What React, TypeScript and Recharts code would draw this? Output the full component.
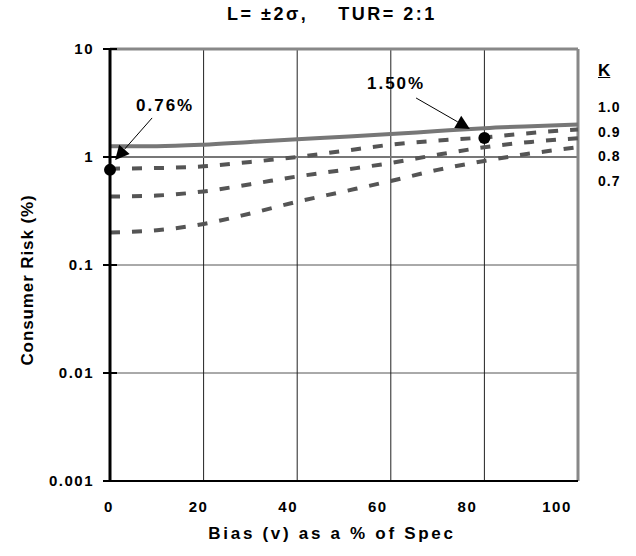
import React from "react";
import {
  LineChart,
  Line,
  XAxis,
  YAxis,
  CartesianGrid,
  ReferenceLine,
  ReferenceDot,
} from "recharts";

const FONT = "'Liberation Sans', Arial, Helvetica, sans-serif";

// bias as % of spec
const bias = [0, 10, 20, 30, 40, 50, 60, 70, 80, 90, 100];

// consumer risk (%) for each K
const riskK10 = [1.26, 1.26, 1.3, 1.38, 1.46, 1.54, 1.63, 1.74, 1.85, 1.93, 2.0];
const riskK09 = [0.78, 0.79, 0.82, 0.9, 1.0, 1.14, 1.3, 1.42, 1.52, 1.67, 1.8];
const riskK08 = [0.43, 0.44, 0.48, 0.56, 0.66, 0.76, 0.88, 1.05, 1.23, 1.38, 1.49];
const riskK07 = [0.2, 0.21, 0.24, 0.3, 0.385, 0.48, 0.6, 0.76, 0.92, 1.08, 1.23];

const kLabels = ["1.0", "0.9", "0.8", "0.7"];
const xTicks = [0, 20, 40, 60, 80, 100];
const yTicks = [0.001, 0.01, 0.1, 1, 10];

// highlighted points: [bias, risk %]
const markStart = { v: 0, risk: 0.76, label: "0.76%" };
const markEnd = { v: 80, risk: 1.5, label: "1.50%" };

const data = bias.map((v, i) => ({
  v,
  k10: riskK10[i],
  k09: riskK09[i],
  k08: riskK08[i],
  k07: riskK07[i],
}));

const YTick = (props: any) => {
  const { x, y, payload } = props;
  return (
    <g>
      <line x1={x + 11} x2={x + 25} y1={y} y2={y} stroke="#000" strokeWidth={2} />
      <text
        x={x + 2}
        y={y}
        dy="0.35em"
        textAnchor="end"
        fontFamily={FONT}
        fontWeight="bold"
        fontSize={15}
        letterSpacing={1.5}
        fill="#000"
      >
        {String(payload.value)}
      </text>
    </g>
  );
};

// labels sit slightly left of their grid lines, drifting further with value
const XTick = (props: any) => {
  const { x, y, payload } = props;
  return (
    <text
      x={x - 1 - payload.value * 0.2}
      y={y}
      dy="0.35em"
      textAnchor="middle"
      fontFamily={FONT}
      fontWeight="bold"
      fontSize={15}
      letterSpacing={1.5}
      fill="#000"
    >
      {payload.value}
    </text>
  );
};

const arrow = (label: string, dx: number, dy: number) => (p: any) => {
  const { x1, y1, x2, y2 } = p;
  const a = Math.atan2(y2 - y1, x2 - x1);
  const len = 14;
  const half = 7;
  const bx = x2 - len * Math.cos(a);
  const by = y2 - len * Math.sin(a);
  const nx = -Math.sin(a) * half;
  const ny = Math.cos(a) * half;
  return (
    <g>
      <line x1={x1} y1={y1} x2={bx} y2={by} stroke="#000" strokeWidth={1} />
      <polygon
        points={`${x2},${y2} ${bx + nx},${by + ny} ${bx - nx},${by - ny}`}
        fill="#000"
      />
      <text
        x={x1 + dx}
        y={y1 + dy}
        dy="0.35em"
        textAnchor="middle"
        fontFamily={FONT}
        fontWeight="bold"
        fontSize={17}
        letterSpacing={2}
        fill="#000"
      >
        {label}
      </text>
    </g>
  );
};

export default function App() {
  return (
    <div
      style={{
        position: "absolute",
        left: 0,
        top: 0,
        width: 636,
        height: 556,
        background: "#fff",
        fontFamily: FONT,
      }}
    >
      <div
        style={{
          position: "absolute",
          left: 227,
          top: 4,
          fontSize: 18,
          fontWeight: "bold",
          letterSpacing: 2.5,
          whiteSpace: "pre",
        }}
      >
        {"L= ±2σ,    TUR= 2:1"}
      </div>

      <div
        style={{
          position: "absolute",
          left: 598,
          top: 61,
          fontSize: 17,
          fontWeight: "bold",
          textDecoration: "underline",
        }}
      >
        K
      </div>
      {kLabels.map((k, i) => (
        <div
          key={k}
          style={{
            position: "absolute",
            left: 598,
            top: 99 + i * 24.5,
            fontSize: 14,
            fontWeight: "bold",
            letterSpacing: 1,
            lineHeight: "16px",
          }}
        >
          {k}
        </div>
      ))}

      <LineChart
        width={636}
        height={556}
        data={data}
        margin={{ top: 49, right: 58, bottom: 0, left: 0 }}
      >
        <CartesianGrid vertical={false} stroke="#555" strokeWidth={1} />
        <CartesianGrid horizontal={false} stroke="#222" strokeWidth={1} />
        <XAxis
          dataKey="v"
          type="number"
          domain={[0, 100]}
          ticks={xTicks}
          height={75}
          tickSize={0}
          tickMargin={26}
          tickLine={false}
          axisLine={{ stroke: "#000", strokeWidth: 2 }}
          tick={<XTick />}
          label={{
            content: (lp: any) => {
              const vb = lp.viewBox;
              return (
                <text
                  x={vb.x + vb.width / 2 - 12}
                  y={vb.y + 52}
                  dy="0.35em"
                  textAnchor="middle"
                  fontFamily={FONT}
                  fontWeight="bold"
                  fontSize={17}
                  letterSpacing={2.7}
                  fill="#000"
                >
                  Bias (v) as a % of Spec
                </text>
              );
            },
          }}
        />
        <YAxis
          type="number"
          scale="log"
          domain={[0.001, 10]}
          ticks={yTicks}
          allowDataOverflow
          width={110}
          tickSize={7}
          tickMargin={11}
          tickLine={false}
          axisLine={{ stroke: "#000", strokeWidth: 3 }}
          tick={<YTick />}
          label={{
            content: (lp: any) => {
              const vb = lp.viewBox;
              const cx = vb.x + 27;
              const cy = vb.y + vb.height / 2 + 15;
              return (
                <text
                  x={cx}
                  y={cy}
                  dy="0.35em"
                  textAnchor="middle"
                  transform={`rotate(-90 ${cx} ${cy})`}
                  fontFamily={FONT}
                  fontWeight="bold"
                  fontSize={17}
                  letterSpacing={0.9}
                  fill="#000"
                >
                  Consumer Risk (%)
                </text>
              );
            },
          }}
        />
        <ReferenceLine y={1} stroke="#777" strokeWidth={2} />
        <ReferenceLine y={10} stroke="#888" strokeWidth={3} />
        <ReferenceLine x={100} stroke="#888" strokeWidth={3} />

        <Line
          type="monotone"
          dataKey="k07"
          stroke="#555"
          strokeWidth={4}
          strokeDasharray="10 12"
          dot={false}
          isAnimationActive={false}
        />
        <Line
          type="monotone"
          dataKey="k08"
          stroke="#555"
          strokeWidth={4}
          strokeDasharray="10 12"
          dot={false}
          isAnimationActive={false}
        />
        <Line
          type="monotone"
          dataKey="k09"
          stroke="#555"
          strokeWidth={4}
          strokeDasharray="10 12"
          dot={false}
          isAnimationActive={false}
        />
        <Line
          type="monotone"
          dataKey="k10"
          stroke="#777"
          strokeWidth={4}
          dot={false}
          isAnimationActive={false}
        />

        <ReferenceDot x={markStart.v} y={markStart.risk} r={6} fill="#000" stroke="none" />
        <ReferenceDot x={markEnd.v} y={markEnd.risk} r={6} fill="#000" stroke="none" />

        <ReferenceLine
          segment={[
            { x: 9, y: 2.3 },
            { x: 1.1, y: 0.94 },
          ]}
          shape={arrow(markStart.label, 13, -13)}
        />
        <ReferenceLine
          segment={[
            { x: 65.4, y: 3.52 },
            { x: 76.9, y: 1.82 },
          ]}
          shape={arrow(markEnd.label, -20, -15)}
        />
      </LineChart>
    </div>
  );
}
